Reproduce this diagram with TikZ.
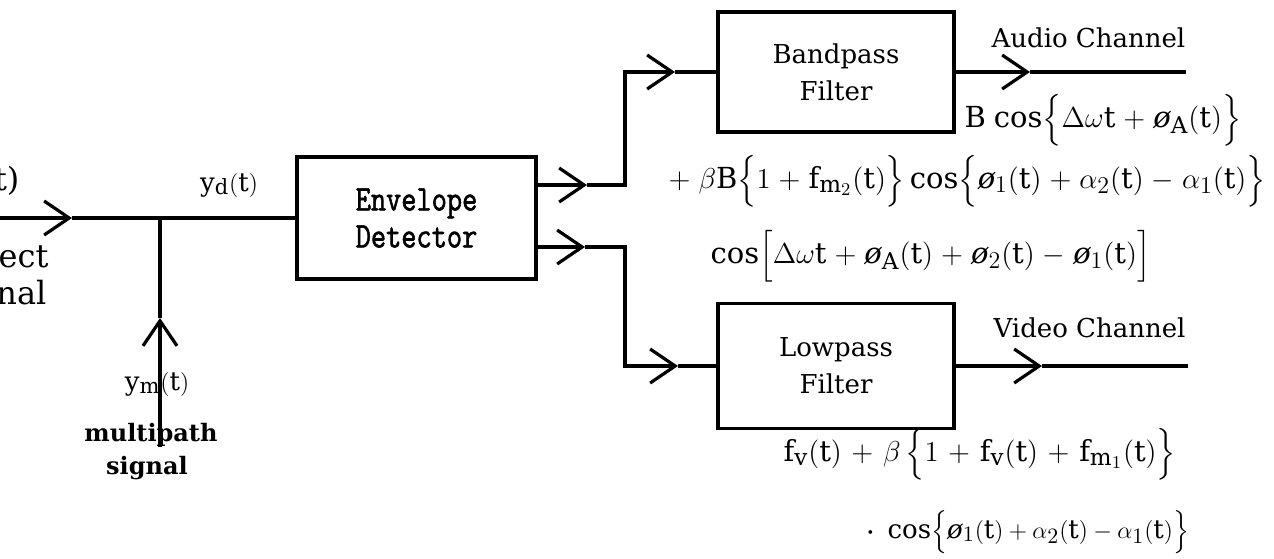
\documentclass[tikz,border=0pt]{standalone}
\usepackage{amsmath}
\usepackage{fontspec}
\setmainfont{DejaVu Serif}
\newfontfamily\edfont[FakeStretch=0.82,FakeBold=1.6]{Latin Modern Mono}
\usetikzlibrary{arrows.meta}
\DeclareMathSizes{13}{13}{10.5}{8}
\DeclareMathSizes{14.5}{14.5}{11.5}{9}
\newcommand\pho{\mbox{\itshape ø}}
\makeatletter
\newcommand\lbr[2]{\mathopen{\hbox{$\left#1\vcenter to #2{}\right.\n@space$}}}
\newcommand\rbr[2]{\mathclose{\hbox{$\left.\vcenter to #2{}\right#1\n@space$}}}
\makeatother
\begin{document}
\begin{tikzpicture}[x=0.5pt,y=-0.5pt,line width=1.6pt,
  lab/.style={font=\fontsize{13}{18.5}\selectfont, inner sep=0pt},
  biglab/.style={font=\fontsize{16}{18}\selectfont, inner sep=0pt},
  fml/.style={font=\fontsize{14.5}{17}\selectfont, inner sep=0pt},
  boldlab/.style={font=\fontsize{12}{17}\selectfont\bfseries, inner sep=0pt},
  blockbox/.style={draw, line width=1.6pt, inner sep=0pt, align=center},
  chev/.style={-{Straight Barb[length=12.5pt,width=17pt]}}]
\useasboundingbox (0,0) rectangle (1274,558);

% blocks
\node[blockbox, minimum width=119.5pt, minimum height=61pt,
      font=\edfont\fontsize{18}{18.5}\selectfont] (ED) at (416.5,218) {Envelope\\Detector};
\node[blockbox, lab, minimum width=118pt, minimum height=60pt] (BP) at (836,72) {Bandpass\\Filter};
\node[blockbox, lab, minimum width=118pt, minimum height=62.5pt] (LP) at (836,366) {Lowpass\\Filter};

% coordinates
\coordinate (in) at (0,218);
\coordinate (t1) at (72,218);
\coordinate (j) at (160,218);
\coordinate (mb) at (160,447);
\coordinate (t2) at (160,318);
\coordinate (o1) at ([yshift=16.5pt]ED.east);
\coordinate (a1) at (587,185);
\coordinate (k1) at (625,72);
\coordinate (a2) at (675,72);
\coordinate (o2) at ([yshift=-14.5pt]ED.east);
\coordinate (a3) at (585,247);
\coordinate (k2) at (625,366);
\coordinate (a4) at (678,366);
\coordinate (a5) at (1030,72);
\coordinate (e1) at (1186,72);
\coordinate (a6) at (1042,366);
\coordinate (e2) at (1188,366);

% connectors
\draw[chev] (in) -- (t1);
\draw (t1) -- (ED.west);
\draw[chev] (mb) -- (t2);
\draw (t2) -- (j);
\draw[chev] (o1) -- (a1);
\draw[chev] (a1) -| (k1) -- (a2);
\draw (a2) -- (BP.west);
\draw[chev] (o2) -- (a3);
\draw[chev] (a3) -| (k2) -- (a4);
\draw (a4) -- (LP.west);
\draw[chev] (BP.east) -- (a5);
\draw (a5) -- (e1);
\draw[chev] (LP.east) -- (a6);
\draw (a6) -- (e2);

% left labels
\node[biglab, anchor=base east] (lin) at (21,190) {(t)};
\node[biglab, anchor=base east] (ldir) at (50,267) {Direct};
\node[biglab, anchor=base east] (lsig) at (48,304) {signal};
\node[lab, anchor=base] (lyd) at (229,191) {$\mathrm{y}_{\mathrm{d}}(\mathrm{t})$};
\node[lab, anchor=base] (lym) at (157,390) {$\mathrm{y}_{\mathrm{m}}(\mathrm{t})$};
\node[boldlab] (lmp) at (151,435) {multipath};
\node[boldlab] (lsg) at (147,468) {signal};

% right labels
\node[lab, anchor=base west] (laud) at (990,47) {Audio Channel};
\node[lab, anchor=base west] (lvid) at (992,337) {Video Channel};

\node[fml, anchor=base west] (f1) at (963,127)
 {$\medmuskip=5mu\mathrm{B}\;\mathrm{cos}\lbr\{{23pt}\Delta\omega\mathrm{t}+\pho_{\mathrm{A}}(\mathrm{t})\rbr\}{23pt}$};
\node[fml, anchor=base west] (f2) at (667,188)
 {$\medmuskip=5mu+\;\beta\mathrm{B}\lbr\{{23pt}1+\mathrm{f}_{\mathrm{m}_2}(\mathrm{t})\rbr\}{23pt}\,\mathrm{cos}\lbr\{{23pt}\pho_1(\mathrm{t})+\alpha_2(\mathrm{t})-\alpha_1(\mathrm{t})\rbr\}{23pt}$};
\node[fml, anchor=base west] (f3) at (709,263)
 {$\medmuskip=5mu\mathrm{cos}\lbr[{27pt}\Delta\omega\mathrm{t}+\pho_{\mathrm{A}}(\mathrm{t})+\pho_2(\mathrm{t})-\pho_1(\mathrm{t})\rbr]{27pt}$};
\node[fml, anchor=base west] (f4) at (782,461)
 {$\medmuskip=6mu\mathrm{f}_{\mathrm{v}}(\mathrm{t})+\beta\,\lbr\{{23pt}1+\mathrm{f}_{\mathrm{v}}(\mathrm{t})+\mathrm{f}_{\mathrm{m}_1}(\mathrm{t})\rbr\}{23pt}$};
\node[lab, anchor=base west] (f5) at (865,538)
 {$\boldsymbol{\cdot}\;\;\mathrm{cos}\lbr\{{23pt}\pho_1(\mathrm{t})+\alpha_2(\mathrm{t})-\alpha_1(\mathrm{t})\rbr\}{23pt}$};
\end{tikzpicture}
\end{document}
